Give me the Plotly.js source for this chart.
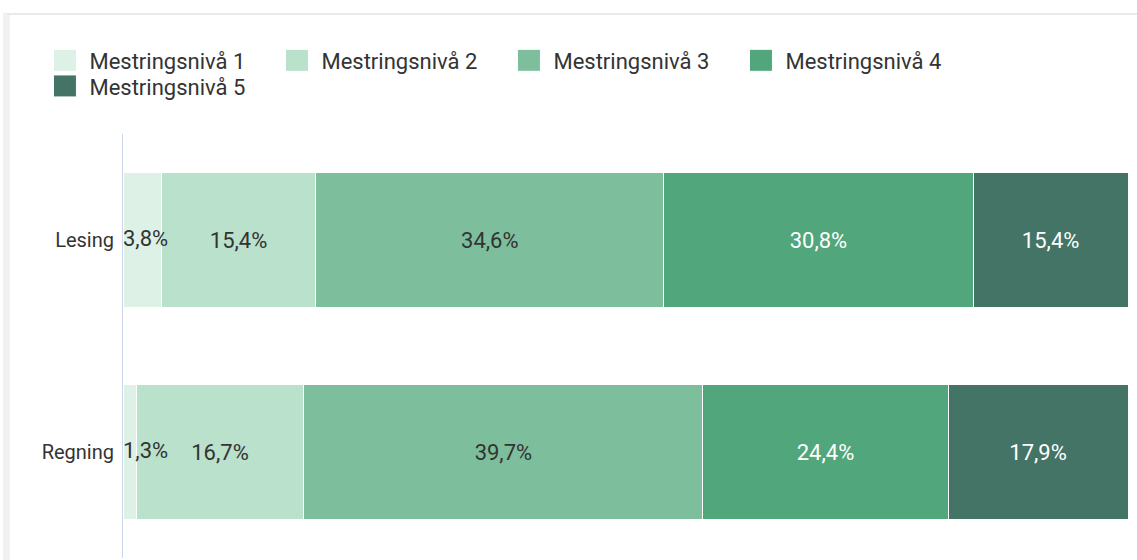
<!DOCTYPE html>
<html>
<head>
<meta charset="utf-8">
<script src="https://cdn.plot.ly/plotly-3.0.1.min.js"></script>
<style>
  html, body { margin: 0; padding: 0; background: #ffffff; width: 1137px; height: 560px; overflow: hidden; }
  #wrap { position: absolute; left: 3px; top: 13px; width: 1134px; height: 547px;
          border-left: 7px solid #f1f1f1; border-top: 2px solid #e9e9e9; box-sizing: border-box; }
  #chart { width: 1127px; height: 545px; }
</style>
</head>
<body>
<div id="wrap"><div id="chart"></div></div>
<script>
const categories = ['Lesing', 'Regning'];
const seriesNames = ['Mestringsnivå 1', 'Mestringsnivå 2', 'Mestringsnivå 3', 'Mestringsnivå 4', 'Mestringsnivå 5'];
const level1 = [3.8, 1.3];
const level2 = [15.4, 16.7];
const level3 = [34.6, 39.7];
const level4 = [30.8, 24.4];
const level5 = [15.4, 17.9];
const seriesValues = [level1, level2, level3, level4, level5];
const colors = ['#ddf1e6', '#b9e1cc', '#7dbf9c', '#52a67b', '#437466'];
const textColors = ['#333333', '#333333', '#333333', '#ffffff', '#ffffff'];

const fmt = v => v.toFixed(1).replace('.', ',') + '%';

const traces = seriesValues.map((vals, i) => ({
  type: 'bar',
  orientation: 'h',
  name: seriesNames[i],
  y: categories,
  x: vals,
  text: i === 0 ? undefined : vals.map(fmt),
  textposition: i === 0 ? 'none' : 'inside',
  insidetextanchor: 'middle',
  constraintext: 'none',
  textangle: 0,
  textfont: { family: 'Roboto, sans-serif', size: 22, color: textColors[i] },
  marker: { color: colors[i], line: { color: '#ffffff', width: 1 } },
  hoverinfo: 'none'
}));

// Level 1 labels are wider than their bars: draw them above the stack,
// starting at the left edge of each bar (the axis origin).
traces.push({
  type: 'scatter',
  mode: 'text',
  y: categories,
  x: categories.map(() => 0),
  text: level1.map(fmt),
  textposition: 'middle right',
  textfont: { family: 'Roboto, sans-serif', size: 22, color: textColors[0] },
  marker: { size: 0 },
  cliponaxis: false,
  showlegend: false,
  hoverinfo: 'none'
});

const layout = {
  width: 1127,
  height: 545,
  margin: { l: 113, r: 9, t: 119, b: 2 },
  paper_bgcolor: '#ffffff',
  plot_bgcolor: '#ffffff',
  barmode: 'stack',
  bargap: 0.36,
  font: { family: 'Roboto, sans-serif', color: '#333333' },
  showlegend: true,
  legend: {
    orientation: 'h',
    xref: 'container', yref: 'container',
    x: 0.035, y: 0.955, xanchor: 'left', yanchor: 'top',
    entrywidth: 187,
    font: { family: 'Roboto, sans-serif', size: 22, color: '#333333' },
    traceorder: 'normal',
    tracegroupgap: 0
  },
  xaxis: { range: [0, 100], visible: false, fixedrange: true },
  yaxis: {
    autorange: 'reversed',
    showline: true, linecolor: '#ccd6eb', linewidth: 1,
    showgrid: false, zeroline: false, ticks: '',
    ticklabelstandoff: 4,
    tickfont: { family: 'Roboto, sans-serif', size: 20, color: '#333333' },
    fixedrange: true
  }
};

Plotly.newPlot('chart', traces, layout, { displayModeBar: false, staticPlot: true }).then(() => {
  document.querySelectorAll('#chart .legendpoints path').forEach(p => {
    p.setAttribute('d', 'M7,11H-16V-11H7Z');
  });
  // tighten the legend row spacing to match the original
  const items = [];
  document.querySelectorAll('#chart .legend g.traces').forEach(g => {
    const t = g.getAttribute('transform') || '';
    const m = t.match(/translate\(([-\d.]+)[ ,]+([-\d.]+)\)/);
    if (m) items.push({ g: g, x: parseFloat(m[1]), y: parseFloat(m[2]) });
  });
  if (items.length) {
    const minY = Math.min.apply(null, items.map(o => o.y));
    items.forEach(o => {
      if (o.y > minY + 5) {
        o.g.setAttribute('transform', 'translate(' + o.x + ',' + (o.y - 6) + ')');
      }
    });
  }
});
</script>
</body>
</html>
